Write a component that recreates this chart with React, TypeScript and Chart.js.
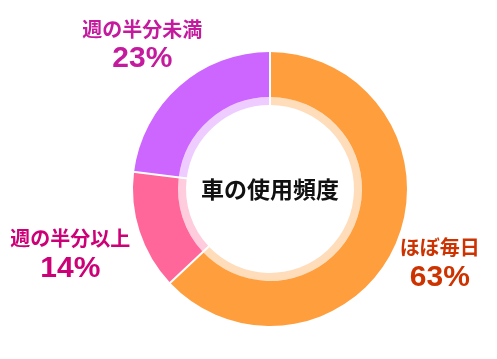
import React, { useEffect, useRef } from "react";
import { Chart, registerables } from "chart.js";

Chart.register(...registerables);

const categories = ["ほぼ毎日", "週の半分以上", "週の半分未満"];
const values = [63, 14, 23];
const centerTitle = "車の使用頻度";

const mainColors = ["#FF9E3D", "#FF6699", "#CC66FF"];
const lightColors = ["#FFDDBB", "#FFCCDD", "#EECCFF"];
const labelColors = ["#CC3300", "#CC0077", "#C41A9E"];
const labelGap = [48, 73, 56];

const JP = '"Noto Sans CJK JP", "Noto Sans", sans-serif';
const NUM = '"Liberation Sans", Arial, sans-serif';

const labelPlugin = {
  id: "labelPlugin",
  afterDatasetsDraw(chart: any) {
    const ctx = chart.ctx;
    const outerMeta = chart.getDatasetMeta(0);
    const innerMeta = chart.getDatasetMeta(1);
    ctx.save();
    // white separators across both rings
    ctx.strokeStyle = "#ffffff";
    ctx.lineWidth = 2;
    outerMeta.data.forEach((arc: any, i: number) => {
      const { x, y, startAngle, outerRadius } = arc.getProps(
        ["x", "y", "startAngle", "outerRadius"],
        true
      );
      const inner = innerMeta.data[i].getProps(["innerRadius"], true).innerRadius;
      ctx.beginPath();
      ctx.moveTo(x + Math.cos(startAngle) * (inner - 1), y + Math.sin(startAngle) * (inner - 1));
      ctx.lineTo(x + Math.cos(startAngle) * (outerRadius + 1), y + Math.sin(startAngle) * (outerRadius + 1));
      ctx.stroke();
    });

    ctx.textAlign = "center";
    ctx.textBaseline = "middle";
    let cx = 0;
    let cy = 0;
    outerMeta.data.forEach((arc: any, i: number) => {
      const { x, y, startAngle, endAngle, outerRadius } = arc.getProps(
        ["x", "y", "startAngle", "endAngle", "outerRadius"],
        true
      );
      cx = x;
      cy = y;
      const mid = (startAngle + endAngle) / 2;
      const r = outerRadius + labelGap[i];
      const lx = x + Math.cos(mid) * r;
      const ly = y + Math.sin(mid) * r;
      ctx.fillStyle = labelColors[i];
      ctx.font = `bold 20px ${JP}`;
      ctx.fillText(categories[i], lx, ly - 15);
      ctx.font = `bold 30px ${NUM}`;
      ctx.fillText(values[i] + "%", lx, ly + 15);
    });
    ctx.fillStyle = "#111111";
    ctx.font = `bold 23px ${JP}`;
    ctx.fillText(centerTitle, cx, cy);
    ctx.restore();
  },
};

export default function App() {
  const ref = useRef<HTMLCanvasElement>(null);
  useEffect(() => {
    if (!ref.current) return;
    const chart = new Chart(ref.current, {
      type: "doughnut",
      data: {
        labels: categories,
        datasets: [
          {
            data: values,
            backgroundColor: mainColors,
            borderWidth: 0,
            weight: 45,
          },
          {
            data: values,
            backgroundColor: lightColors,
            borderWidth: 0,
            weight: 8,
          },
        ],
      },
      options: {
        responsive: false,
        animation: false,
        cutout: "61.3%",
        layout: { padding: { top: 52, bottom: 33, left: 133, right: 90 } },
        plugins: {
          legend: { display: false },
          tooltip: { enabled: false },
        },
      },
      plugins: [labelPlugin],
    });
    return () => chart.destroy();
  }, []);
  return (
    <div style={{ position: "absolute", left: 0, top: 0, width: 497, height: 359, background: "#fff" }}>
      <canvas ref={ref} width={497} height={359} />
    </div>
  );
}
